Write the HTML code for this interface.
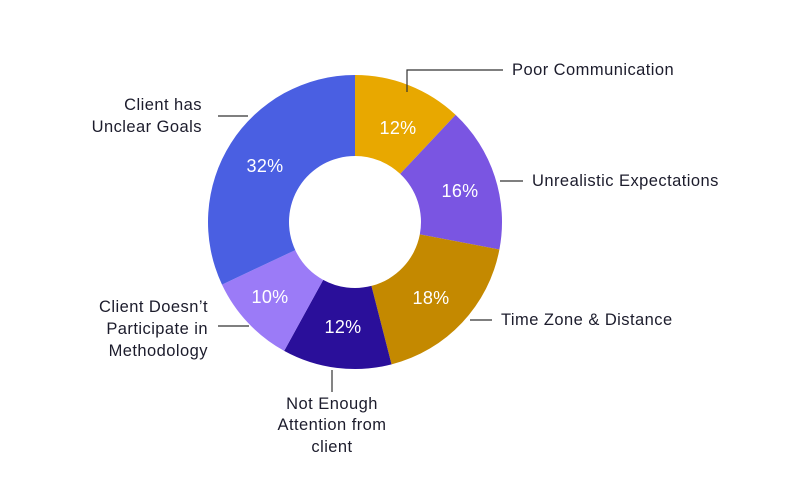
<!DOCTYPE html>
<html><head><meta charset="utf-8"><style>
html,body{margin:0;padding:0;background:#fff;}
body{width:800px;height:494px;position:relative;overflow:hidden;font-family:"Liberation Sans",sans-serif;}
svg{position:absolute;left:0;top:0;}
</style></head><body>
<svg id="s" width="800" height="494" viewBox="0 0 800 494">
<g id="slices"></g>
<g stroke="#333" stroke-width="1.2" fill="none">
<polyline points="407,92 407,70 503,70"/>
<line x1="500" y1="181" x2="523" y2="181"/>
<line x1="470" y1="320" x2="492" y2="320"/>
<line x1="332" y1="370" x2="332" y2="392"/>
<line x1="218" y1="326" x2="249" y2="326"/>
<line x1="218" y1="116" x2="248" y2="116"/>
</g>
<g font-family="Liberation Sans, sans-serif" font-size="16.5" letter-spacing="0.45" fill="#1c1c2c">
<text x="512" y="75">Poor Communication</text>
<text x="532" y="186">Unrealistic Expectations</text>
<text x="501" y="325">Time Zone &amp; Distance</text>
<text x="332" y="409" text-anchor="middle">Not Enough</text>
<text x="332" y="430" text-anchor="middle">Attention from</text>
<text x="332" y="452" text-anchor="middle">client</text>
<text x="208" y="312" text-anchor="end">Client Doesn’t</text>
<text x="208" y="334" text-anchor="end">Participate in</text>
<text x="208" y="356" text-anchor="end">Methodology</text>
<text x="202" y="110" text-anchor="end">Client has</text>
<text x="202" y="132" text-anchor="end">Unclear Goals</text>
</g>
<g font-family="Liberation Sans, sans-serif" font-size="18" fill="#fff" text-anchor="middle" letter-spacing="0.3">
<text x="398" y="134">12%</text>
<text x="460" y="197">16%</text>
<text x="431" y="304">18%</text>
<text x="343" y="333">12%</text>
<text x="270" y="303">10%</text>
<text x="265" y="172">32%</text>
</g>
</svg>
<script>
var cx=355,cy=222,R=147,r=66;
var d=[[12,"#E8A800"],[16,"#7A55E2"],[18,"#C48900"],[12,"#2A0F9A"],[10,"#9B7BF7"],[32,"#4A5FE2"]];
var a=0,h="";
function p(rad,ang){var t=(ang-90)*Math.PI/180;return (cx+rad*Math.cos(t)).toFixed(2)+","+(cy+rad*Math.sin(t)).toFixed(2);}
d.forEach(function(s){var b=a+s[0]*3.6;var l=(b-a)>180?1:0;
h+='<path fill="'+s[1]+'" d="M'+p(R,a)+' A'+R+','+R+' 0 '+l+' 1 '+p(R,b)+' L'+p(r,b)+' A'+r+','+r+' 0 '+l+' 0 '+p(r,a)+' Z"/>';a=b;});
document.getElementById("slices").innerHTML=h;
</script>
</body></html>
